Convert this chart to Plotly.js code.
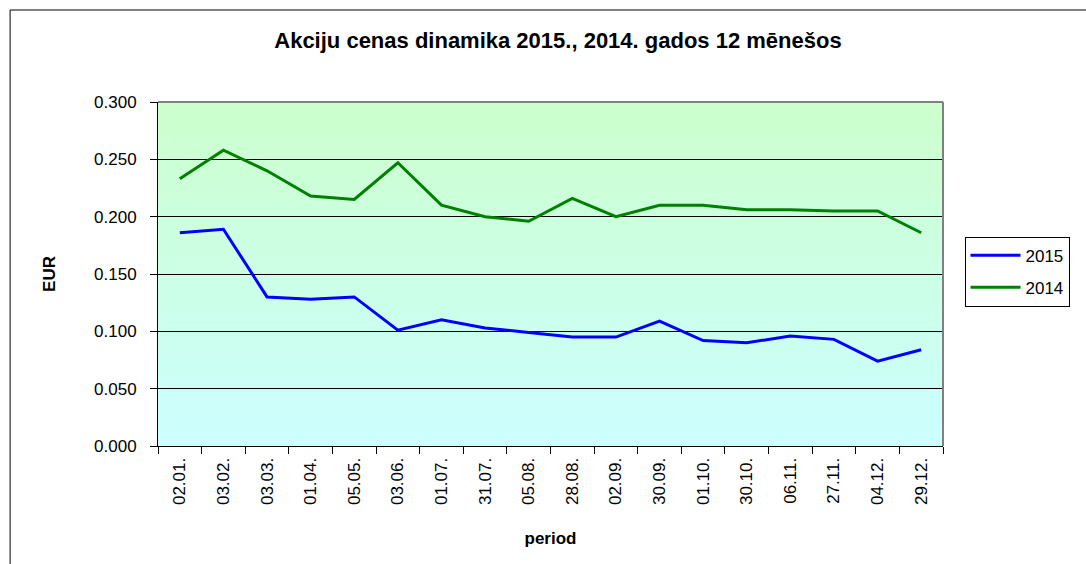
<!DOCTYPE html>
<html>
<head>
<meta charset="utf-8">
<script src="https://cdn.plot.ly/plotly-3.0.1.min.js"></script>
<style>
html,body{margin:0;padding:0;background:#fff;}
#chart{width:1086px;height:564px;}
</style>
</head>
<body>
<div id="chart"></div>
<script>
const categories = ["02.01.","03.02.","03.03.","01.04.","05.05.","03.06.","01.07.","31.07.","05.08.","28.08.","02.09.","30.09.","01.10.","30.10.","06.11.","27.11.","04.12.","29.12."];
const series2015 = [0.186,0.189,0.130,0.128,0.130,0.101,0.110,0.103,0.099,0.095,0.095,0.109,0.092,0.090,0.096,0.093,0.074,0.084];
const series2014 = [0.233,0.258,0.240,0.218,0.215,0.247,0.210,0.200,0.196,0.216,0.200,0.210,0.210,0.206,0.206,0.205,0.205,0.186];
const seriesNames = ["2015","2014"];
const seriesColors = ["#0000ff","#008000"];

const FONT = "Liberation Sans, Arial, sans-serif";

const gradSvg = '<svg xmlns="http://www.w3.org/2000/svg" width="10" height="100" preserveAspectRatio="none">' +
  '<defs><linearGradient id="g" x1="0" y1="0" x2="0" y2="1">' +
  '<stop offset="0" stop-color="#ccffcc"/><stop offset="1" stop-color="#ccffff"/>' +
  '</linearGradient></defs><rect width="10" height="100" fill="url(#g)"/></svg>';
const gradUri = 'data:image/svg+xml;charset=utf-8,' + encodeURIComponent(gradSvg);

const traces = [series2015, series2014].map((vals, i) => ({
  type: 'scatter',
  mode: 'lines',
  x: categories,
  y: vals,
  name: seriesNames[i],
  legendgroup: 'g' + i,
  line: {color: seriesColors[i], width: 3},
  hoverinfo: 'x+y+name'
}));

const layout = {
  width: 1086,
  height: 564,
  paper_bgcolor: '#ffffff',
  plot_bgcolor: 'rgba(0,0,0,0)',
  margin: {l: 158, r: 142.5, t: 102, b: 118, autoexpand: false},
  font: {family: FONT, color: '#000', size: 17},
  title: {
    text: 'Akciju cenas dinamika 2015., 2014. gados 12 mēnešos',
    font: {family: FONT, size: 22, color: '#000', weight: 'bold'},
    xref: 'container', x: 0.5138, xanchor: 'center',
    yref: 'container', y: 0.929, yanchor: 'middle'
  },
  xaxis: {
    type: 'category',
    range: [-0.5, 17.5],
    tickangle: -90,
    tickson: 'boundaries',
    ticks: 'outside',
    ticklen: 7,
    tickcolor: '#000',
    tickwidth: 1,
    ticklabelstandoff: 4,
    showline: true,
    linecolor: '#000',
    linewidth: 1,
    showgrid: false,
    zeroline: false,
    tickfont: {family: FONT, size: 17, color: '#000'},
    title: {text: 'period', font: {family: FONT, size: 17, color: '#000', weight: 'bold'}, standoff: 28}
  },
  yaxis: {
    range: [0, 0.3],
    dtick: 0.05,
    tick0: 0,
    tickformat: '.3f',
    ticks: 'outside',
    ticklen: 7,
    tickcolor: '#000',
    tickwidth: 1,
    ticklabelstandoff: 10,
    showline: true,
    linecolor: '#000',
    linewidth: 1,
    showgrid: true,
    gridcolor: '#000',
    gridwidth: 1,
    zeroline: false,
    tickfont: {family: FONT, size: 17, color: '#000'},
    title: {text: 'EUR', font: {family: FONT, size: 17, color: '#000', weight: 'bold'}, standoff: 34}
  },
  legend: {
    x: 1.0274, xanchor: 'left',
    y: 0.6085, yanchor: 'top',
    bordercolor: '#000', borderwidth: 1,
    bgcolor: '#ffffff',
    font: {family: FONT, size: 17, color: '#000'},
    traceorder: 'grouped',
    tracegroupgap: 7,
    itemwidth: 50,
    entrywidth: 140
  },
  images: [{
    source: gradUri,
    xref: 'paper', yref: 'paper',
    x: 0, y: 1, sizex: 1, sizey: 1,
    xanchor: 'left', yanchor: 'top',
    sizing: 'stretch',
    layer: 'below'
  }],
  shapes: [
    {type: 'rect', xref: 'paper', yref: 'paper', x0: -0.1884, x1: 1.25, y0: -0.45, y1: 1.2674,
     line: {color: '#000', width: 1}, fillcolor: 'rgba(0,0,0,0)', layer: 'below'},
    {type: 'line', xref: 'paper', yref: 'paper', x0: 0, x1: 1, y0: 1, y1: 1,
     line: {color: '#808080', width: 2}, layer: 'above'},
    {type: 'line', xref: 'paper', yref: 'paper', x0: 1, x1: 1, y0: 0, y1: 1,
     line: {color: '#808080', width: 2}, layer: 'above'}
  ],
  showlegend: true
};

Plotly.newPlot('chart', traces, layout, {displayModeBar: false, staticPlot: true});
</script>
</body>
</html>
